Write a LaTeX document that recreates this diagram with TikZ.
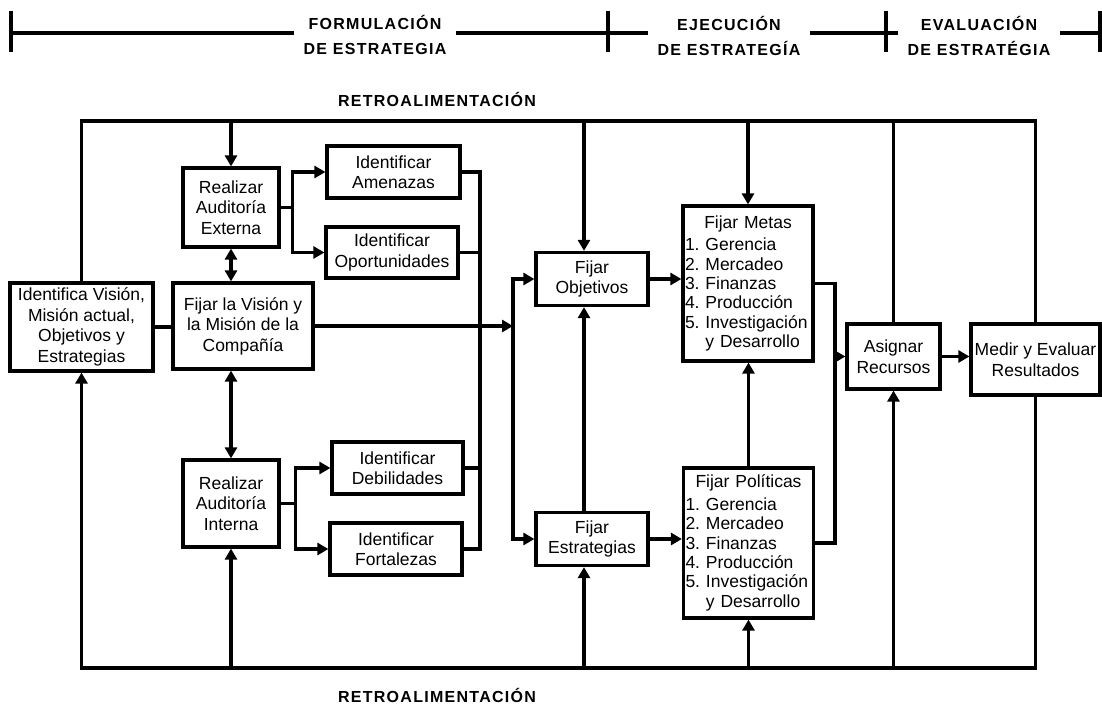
\documentclass[tikz,border=0pt]{standalone}
\usepackage{fontspec}
\setmainfont{Liberation Sans}
\newfontfamily\hdfam{Liberation Sans}[LetterSpace=8]
\newcommand\hdfont{\hdfam\bfseries\fontsize{16}{25}\selectfont}
\newcommand\bodyfont{\fontsize{17.5}{20.5}\selectfont}
\newcommand\lstfont{\fontsize{17.5}{19.4}\selectfont\frenchspacing}
\usetikzlibrary{arrows.meta}

\begin{document}
\begin{tikzpicture}[x=1pt,y=-1pt,line width=3.2pt,
    box/.style={draw,align=center,inner sep=1pt,font=\bodyfont},
    lst/.style={draw,align=left,inner sep=2pt,text width=126pt,font=\lstfont},
    arr/.style={-{Triangle[length=11pt,width=12pt]}},
    darr/.style={{Triangle[length=11pt,width=12pt]}-{Triangle[length=11pt,width=12pt]}},
    hd/.style={align=center,font=\hdfont,inner sep=8pt}]
    \useasboundingbox (0,0) rectangle (1102,709);

    % cabecera
    \node[hd] (form) at (375,35) {FORMULACIÓN\\ DE ESTRATEGIA};
    \node[hd] (ejec) at (729,36) {EJECUCIÓN\\ DE ESTRATEGÍA};
    \node[hd] (eval) at (979,36) {EVALUACIÓN\\ DE ESTRATÉGIA};
    \coordinate (t1) at (11,33);
    \coordinate (t2) at (608,33);
    \coordinate (t3) at (886,33);
    \coordinate (t4) at (1100,33);
    \draw (t1) -- (t1 -| form.west);
    \draw (t2 -| form.east) -- (t2 -| ejec.west);
    \draw (t3 -| ejec.east) -- (t3 -| eval.west);
    \draw (t4 -| eval.east) -- (t4);
    \foreach \t in {t1,t2,t3,t4}
        \draw ([yshift=22pt]\t) -- ([yshift=-19pt]\t);

    \node[font=\hdfont] (rtop) at (437,99) {RETROALIMENTACIÓN};
    \node[font=\hdfont] (rbot) at (437,695) {RETROALIMENTACIÓN};

    % cajas
    \node[box,minimum width=143pt,minimum height=88pt] (ident) at (81.5,327) {Identifica Visión,\\ Misión actual,\\ Objetivos y\\ Estrategias};
    \node[box,minimum width=140pt,minimum height=86pt] (vision) at (243,326) {Fijar la Visión y\\ la Misión de la\\ Compañía};
    \node[box,minimum width=96pt,minimum height=79pt] (externa) at (231,207.5) {Realizar\\ Auditoría\\ Externa};
    \node[box,minimum width=96pt,minimum height=87pt] (interna) at (231,503.5) {Realizar\\ Auditoría\\ Interna};
    \node[box,minimum width=133pt,minimum height=52pt] (amenazas) at (393.5,172) {Identificar\\ Amenazas};
    \node[box,minimum width=132pt,minimum height=51pt] (oport) at (392,252.5) {Identificar\\ Oportunidades};
    \node[box,minimum width=131pt,minimum height=52pt] (debil) at (397.5,468) {Identificar\\ Debilidades};
    \node[box,minimum width=132pt,minimum height=52pt] (fortal) at (396,549) {Identificar\\ Fortalezas};
    \node[box,minimum width=112pt,minimum height=53pt] (objet) at (592,279) {Fijar\\ Objetivos};
    \node[box,minimum width=112pt,minimum height=53pt] (estrat) at (592,539) {Fijar\\ Estrategias};
    \node[lst,minimum height=155pt] (metas) at (748,283.5) {\hfil Fijar Metas\\[3pt] 1. Gerencia\\ 2. Mercadeo\\ 3. Finanzas\\ 4. Producción\\ 5. Investigación\\ \phantom{5. }y Desarrollo};
    \node[lst,minimum height=150pt] (polit) at (748.5,543) {\hfil Fijar Políticas\\[3pt] 1. Gerencia\\ 2. Mercadeo\\ 3. Finanzas\\ 4. Producción\\ 5. Investigación\\ \phantom{5. }y Desarrollo};
    \node[box,minimum width=93pt,minimum height=65pt] (asignar) at (893.5,356.5) {Asignar\\ Recursos};
    \node[box,minimum width=129pt,minimum height=71pt] (medir) at (1035.5,359.5) {Medir y Evaluar\\ Resultados};

    % retroalimentacion
    \coordinate (fbt) at (500,121);
    \coordinate (fbb) at (500,668);
    \coordinate (cobj) at ([xshift=-8pt]objet.north);
    \coordinate (cest) at ([xshift=-8pt]estrat.south);
    \draw (ident.north) |- (fbt) -| (medir.north);
    \draw[arr] (fbt -| externa.north) -- (externa.north);
    \draw[arr] (fbt -| cobj) -- (cobj);
    \draw[arr] (fbt -| metas.north) -- (metas.north);
    \draw (fbt -| asignar.north) -- (asignar.north);
    \draw[arr] (medir.south) |- (fbb) -| (ident.south);
    \draw[arr] (fbb -| interna.south) -- (interna.south);
    \draw[arr] (fbb -| cest) -- (cest);
    \draw[arr] (fbb -| polit.south) -- (polit.south);
    \draw[arr] (fbb -| asignar.south) -- (asignar.south);

    % formulacion
    \draw (ident.east) -- (ident.east -| vision.west);
    \draw[darr] (externa.south) -- (externa.south |- vision.north);
    \draw[darr] (vision.south -| interna.north) -- (interna.north);
    \draw[arr] (externa.east) -- ++(12,0) |- (amenazas.west);
    \draw[arr] (externa.east) -- ++(12,0) |- (oport.west);
    \draw[arr] (interna.east) -- ++(15,0) |- (debil.west);
    \draw[arr] (interna.east) -- ++(15,0) |- (fortal.west);
    \coordinate (col) at (480,0);
    \draw (amenazas.east) -| (col |- fortal.east) -- (fortal.east);
    \draw (oport.east) -- (oport.east -| col);
    \draw (debil.east) -- (debil.east -| col);
    \coordinate (jn) at (513,326);
    \draw[arr] (vision.east) -- (vision.east -| jn);
    \draw[arr] (jn) |- (objet.west);
    \draw[arr] (jn) |- (estrat.west);

    % ejecucion y evaluacion
    \draw[arr] (objet.east) -- (objet.east -| metas.west);
    \draw[arr] (estrat.east) -- (estrat.east -| polit.west);
    \draw[arr] ([xshift=-8pt]estrat.north) -- ([xshift=-8pt]objet.south);
    \draw[arr] (polit.north) -- (polit.north |- metas.south);
    \coordinate (mc) at (835,0);
    \draw (metas.east) -| (mc |- polit.east) -- (polit.east);
    \draw[arr] (mc |- asignar.west) -- (asignar.west);
    \draw[arr] (asignar.east) -- (asignar.east -| medir.west);
\end{tikzpicture}
\end{document}
